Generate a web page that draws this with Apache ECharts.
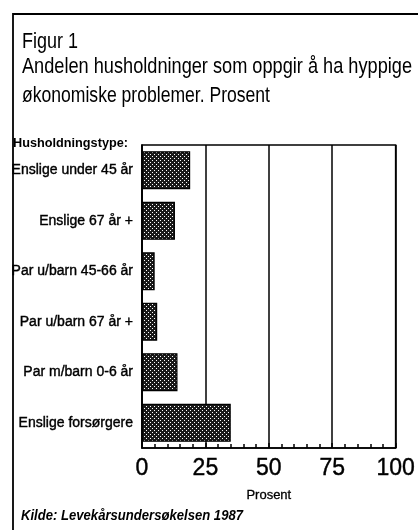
<!DOCTYPE html>
<html>
<head>
<meta charset="utf-8">
<script src="https://cdn.jsdelivr.net/npm/echarts@6/dist/echarts.min.js"></script>
<style>
  html, body { margin: 0; padding: 0; background: #fff; }
  #chart { width: 418px; height: 530px; }
</style>
</head>
<body>
<div id="chart"></div>
<script>
var categories = ["Enslige under 45 år", "Enslige 67 år +", "Par u/barn 45-66 år", "Par u/barn 67 år +", "Par m/barn 0-6 år", "Enslige forsørgere"];
var values = [19, 13, 5, 6, 14, 35];
var xTicks = [0, 25, 50, 75, 100];

var fam = "'Liberation Sans', Arial, sans-serif";

// prikkete fyllmønster for stolpene
var tile = document.createElement("canvas");
tile.width = 4;
tile.height = 4;
var ctx = tile.getContext("2d");
ctx.fillStyle = "#1a1a1a";
ctx.fillRect(0, 0, 4, 4);
ctx.fillStyle = "#ffffff";
ctx.fillRect(0, 0, 1, 1);
ctx.fillRect(2, 2, 1, 1);

// tekst som skal klemmes sammen til en gitt bredde (smal skrift i originalen)
var measure = document.createElement("canvas").getContext("2d");
function fitText(str, x, y, size, width, weight, style) {
    var font = (style || "normal") + " " + (weight || "normal") + " " + size + "px " + fam;
    measure.font = font;
    var w = measure.measureText(str).width;
    return {
        type: "text", x: x, y: y, scaleX: width / w, originX: 0,
        style: { text: str, fill: "#000", font: font, textVerticalAlign: "top" }
    };
}

var myChart = echarts.init(document.getElementById("chart"));
myChart.setOption({
    backgroundColor: "#fff",
    animation: false,
    graphic: [
        { type: "polyline", shape: { points: [[13, 540], [13, 14], [420, 14]] }, style: { stroke: "#000", lineWidth: 1.8, fill: null } },
        fitText("Figur 1", 22, 31, 22, 56),
        fitText("Andelen husholdninger som oppgir å ha hyppige", 22, 56, 22, 390),
        fitText("økonomiske problemer. Prosent", 22, 85, 22, 248),
        fitText("Husholdningstype:", 13, 137, 13, 115, "bold"),
        fitText("Kilde: Levekårsundersøkelsen 1987", 21, 509, 14, 222, "bold", "italic")
    ],
    grid: { left: 142, right: 18, top: 145, bottom: 82, show: true, borderColor: "#000", borderWidth: 1.5, containLabel: false },
    xAxis: {
        type: "value", min: xTicks[0], max: xTicks[xTicks.length - 1], interval: 25,
        name: "Prosent", nameLocation: "middle", nameGap: 41,
        nameTextStyle: { fontFamily: fam, fontSize: 13, color: "#000", textBorderColor: "#000", textBorderWidth: 0.3 },
        axisLine: { show: true, lineStyle: { color: "#000", width: 1.5 } },
        axisTick: { show: true, inside: true, length: 5, lineStyle: { color: "#000", width: 1.5 } },
        minorTick: { show: true, splitNumber: 5, length: 4, lineStyle: { color: "#000", width: 1.5 } },
        splitLine: { show: true, lineStyle: { color: "#000", width: 1.5 } },
        axisLabel: { fontFamily: fam, fontSize: 23, color: "#000", margin: 9, textBorderColor: "#000", textBorderWidth: 0.4 }
    },
    yAxis: {
        type: "category", data: categories, inverse: true,
        axisLine: { show: true, lineStyle: { color: "#000", width: 1.5 } },
        axisTick: { show: false },
        axisLabel: { fontFamily: fam, fontSize: 14, color: "#000", margin: 9, textBorderColor: "#000", textBorderWidth: 0.4 }
    },
    series: [{
        type: "bar",
        data: values,
        barWidth: 38,
        itemStyle: { color: { image: tile, repeat: "repeat" }, borderColor: "#000", borderWidth: 1.2 }
    }]
});
</script>
</body>
</html>
